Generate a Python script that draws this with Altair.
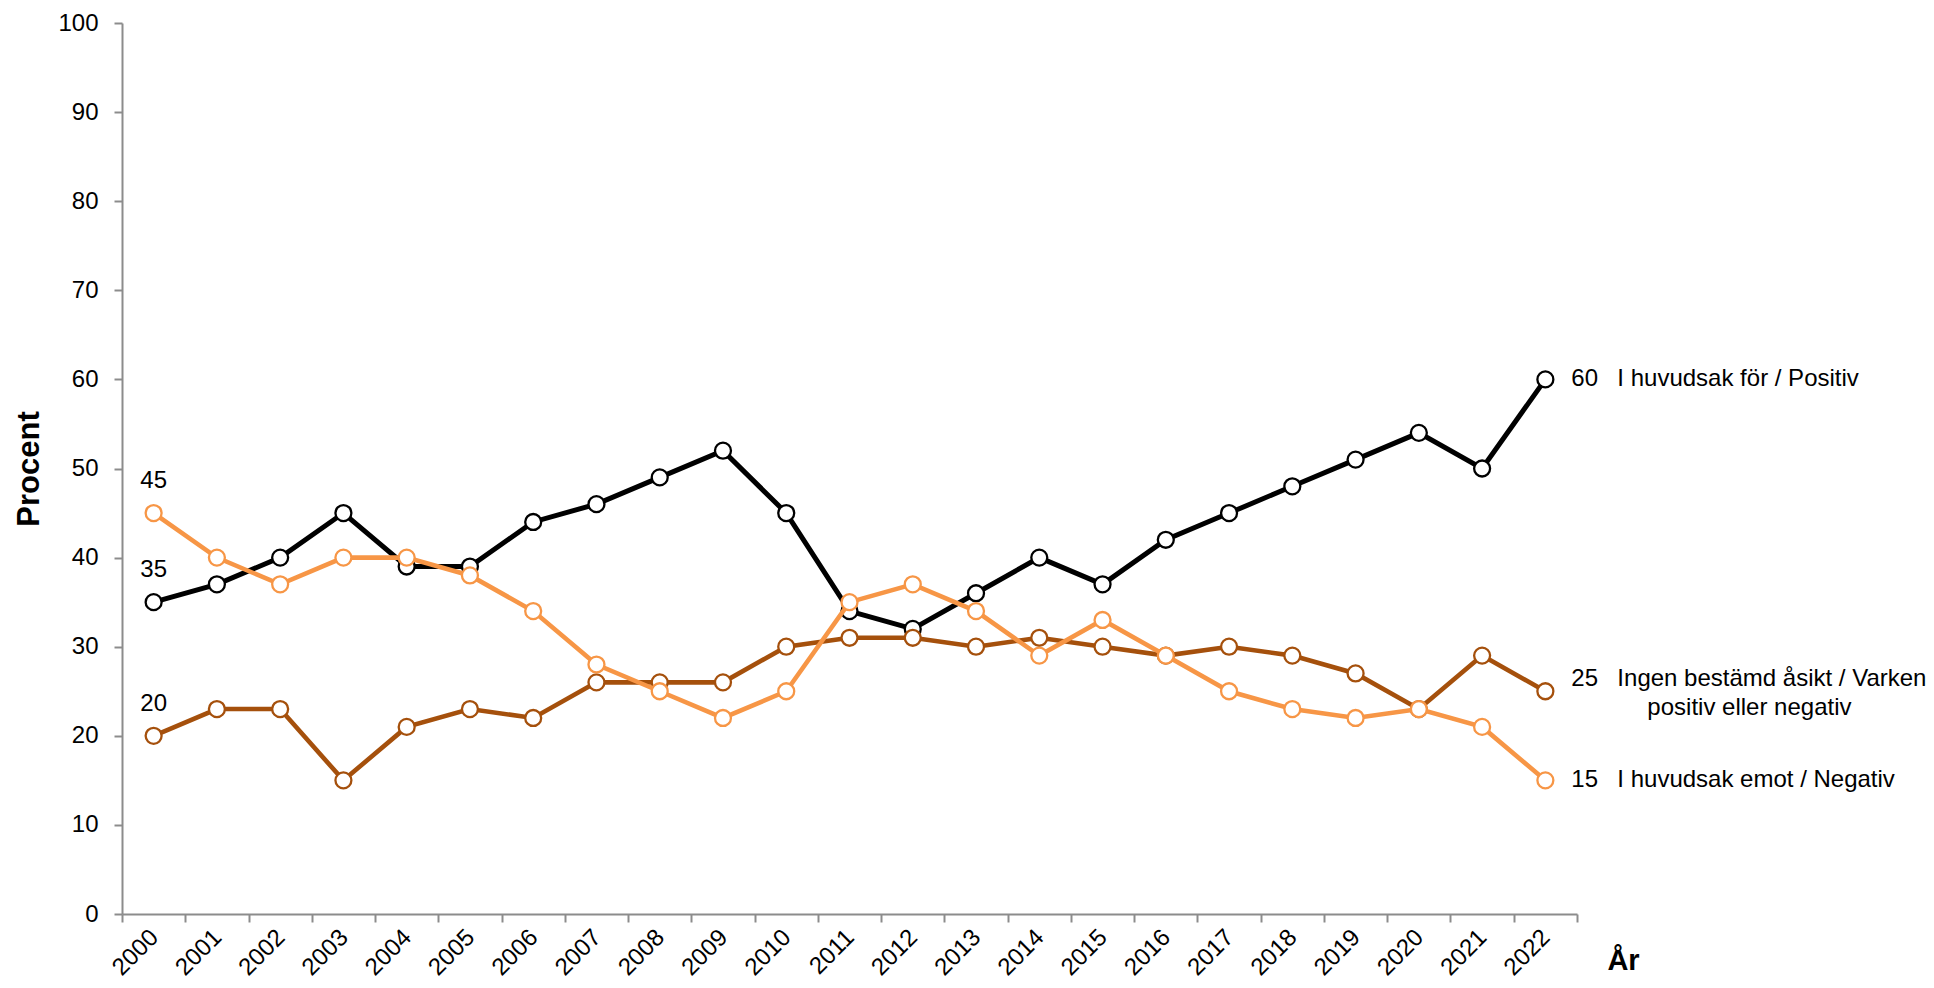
import altair as alt
import pandas as pd

years = ["2000", "2001", "2002", "2003", "2004", "2005", "2006", "2007", "2008",
         "2009", "2010", "2011", "2012", "2013", "2014", "2015", "2016", "2017",
         "2018", "2019", "2020", "2021", "2022"]

positiv = [35, 37, 40, 45, 39, 39, 44, 46, 49, 52, 45, 34, 32, 36, 40, 37, 42, 45,
           48, 51, 54, 50, 60]
ingen = [20, 23, 23, 15, 21, 23, 22, 26, 26, 26, 30, 31, 31, 30, 31, 30, 29, 30,
         29, 27, 23, 29, 25]
negativ = [45, 40, 37, 40, 40, 38, 34, 28, 25, 22, 25, 35, 37, 34, 29, 33, 29, 25,
           23, 22, 23, 21, 15]

series_keys = ["positiv", "ingen", "negativ"]
series_values = {"positiv": positiv, "ingen": ingen, "negativ": negativ}
series_desc = {
    "positiv": ["I huvudsak för / Positiv"],
    "ingen": ["Ingen bestämd åsikt / Varken", "positiv eller negativ"],
    "negativ": ["I huvudsak emot / Negativ"],
}
title_text = "ÅSIKT OM SVENSKT MEDLEMSKAP EU/INSTÄLLNING TILL EU"
y_ticks = [0, 10, 20, 30, 40, 50, 60, 70, 80, 90, 100]

colors = {"positiv": "#000000", "ingen": "#A5500C", "negativ": "#F79646"}
widths = {"positiv": 5, "ingen": 4.6, "negativ": 4.6}
# vertical offset of end labels (style)
end_dy = {"positiv": 0, "ingen": -12, "negativ": 0}

rows = []
for k in series_keys:
    for yr, v in zip(years, series_values[k]):
        rows.append({"serie": k, "year": yr, "value": v})
df = pd.DataFrame(rows)

first = df[df["year"] == years[0]].copy()
first["label"] = first["value"].astype(str)
last = df[df["year"] == years[-1]].copy()
last["label"] = last["value"].astype(str)
last["desc1"] = last["serie"].map(lambda s: series_desc[s][0])
last["desc2"] = last["serie"].map(lambda s: series_desc[s][1] if len(series_desc[s]) > 1 else "")

FONT = "Liberation Sans, Arial, sans-serif"
GRAY = "#8C8C8C"

X = alt.X(
    "year:O",
    scale=alt.Scale(type="band", domain=years, paddingInner=0, paddingOuter=0),
    bandPosition=0.5,
    axis=alt.Axis(
        title="År", titleFontSize=29, titleFontWeight="bold", titleFont=FONT,
        titleX=1501, titleY=46, titleAlign="center", titleBaseline="middle",
        labelAngle=315, labelAlign="right", labelBaseline="top",
        labelFontSize=24, labelFont=FONT, labelColor="black",
        labelPadding=3, labelOffset=-8, labelOverlap=False,
        tickBand="extent", tickSize=8, tickColor=GRAY, tickWidth=2,
        domainColor=GRAY, domainWidth=2, grid=False,
    ),
)
Y = alt.Y(
    "value:Q",
    scale=alt.Scale(domain=[0, 100], nice=False, zero=True),
    axis=alt.Axis(
        title="Procent", titleFontSize=31, titleFontWeight="bold", titleFont=FONT,
        titleAngle=270, titleX=-93, titleY=445.5, titleAlign="center",
        titleBaseline="middle",
        values=y_ticks, labelFontSize=24, labelFont=FONT, labelColor="black",
        labelPadding=16, tickSize=8, tickColor=GRAY, tickWidth=2,
        domainColor=GRAY, domainWidth=2, grid=False,
    ),
)

layers = []
for k in series_keys:
    base = alt.Chart(df).transform_filter(alt.datum.serie == k)
    layers.append(base.mark_line(color=colors[k], strokeWidth=widths[k]).encode(x=X, y=Y))
    layers.append(
        base.mark_circle(fill="white", stroke=colors[k], strokeWidth=2.3, size=255, opacity=1)
        .encode(x=X, y=Y)
    )

for k in series_keys:
    fb = alt.Chart(first).transform_filter(alt.datum.serie == k)
    layers.append(
        fb.mark_text(fontSize=24, font=FONT, color="black", align="center",
                     baseline="alphabetic", dy=-25)
        .encode(x=X, y=Y, text="label:N")
    )
    lb = alt.Chart(last).transform_filter(alt.datum.serie == k)
    layers.append(
        lb.mark_text(fontSize=24, font=FONT, color="black", align="left",
                     baseline="middle", dx=26, dy=end_dy[k])
        .encode(x=X, y=Y, text="label:N")
    )
    layers.append(
        lb.mark_text(fontSize=24, font=FONT, color="black", align="left",
                     baseline="middle", dx=72, dy=end_dy[k])
        .encode(x=X, y=Y, text="desc1:N")
    )
    if len(series_desc[k]) > 1:
        layers.append(
            lb.mark_text(fontSize=24, font=FONT, color="black", align="left",
                         baseline="middle", dx=102, dy=end_dy[k] + 29)
            .encode(x=X, y=Y, text="desc2:N")
        )

chart = (
    alt.layer(*layers)
    .properties(
        width=1455,
        height=891,
        autosize=alt.AutoSizeParams(type="none"),
        padding={"left": 114, "top": 15, "right": 349, "bottom": 66},
        title=alt.TitleParams(
            text=title_text, fontSize=47, font=FONT, fontWeight="bold",
            anchor="middle", frame="group", baseline="alphabetic",
            offset=7, dx=125, color="black",
        ),
        background="white",
    )
    .configure_view(stroke=None)
)

chart.save("out.html", embed_options={"renderer": "svg", "actions": False})
